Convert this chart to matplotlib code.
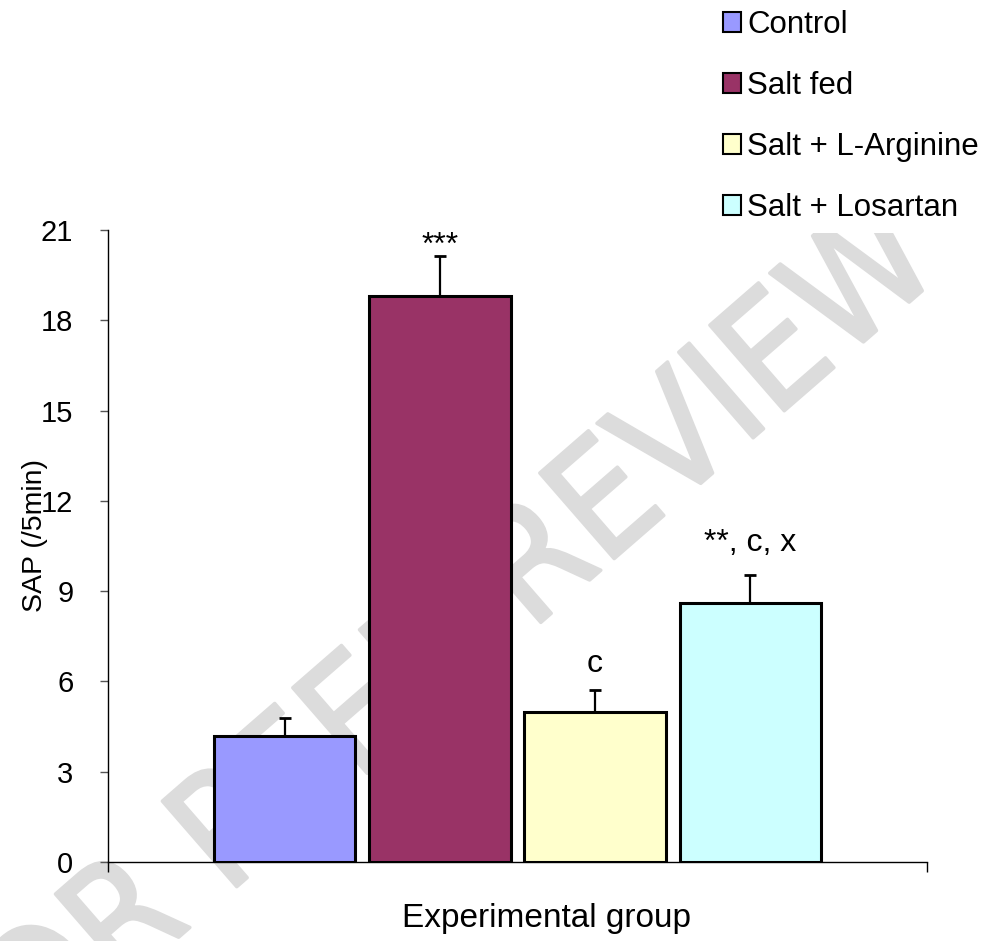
import matplotlib
matplotlib.use("Agg")
import matplotlib.pyplot as plt
from matplotlib.patches import Patch, Rectangle
import matplotlib.patheffects as pe
from matplotlib import font_manager

# ---- data ----
groups = ["Control", "Salt fed", "Salt + L-Arginine", "Salt + Losartan"]
sap_mean = [4.2, 18.8, 5.0, 8.6]
sap_err = [0.6, 1.35, 0.7, 0.95]
sig_labels = ["", "***", "c", "**, c, x"]
label_y = [0.0, 20.2, 6.3, 10.35]
colors = ["#9999FF", "#993366", "#FFFFCC", "#CCFFFF"]
y_ticks = [0, 3, 6, 9, 12, 15, 18, 21]

plt.rcParams['font.family'] = ['Liberation Sans', 'DejaVu Sans']

W, H = 997, 941
fig = plt.figure(figsize=(W / 100, H / 100), dpi=100)
ax = fig.add_axes([108 / W, 1 - 862 / H, (927 - 108) / W, (862 - 230) / H])
ax.set_facecolor('none')

x = list(range(len(groups)))
bars = ax.bar(x, sap_mean, width=0.91, color=colors, edgecolor='black',
              linewidth=2.2, zorder=3)
ax.errorbar(x, sap_mean, yerr=[[0] * len(sap_err), sap_err], fmt='none',
            ecolor='black', elinewidth=1.6, capsize=4.5, capthick=2, zorder=2)

for xi, lab, yy in zip(x, sig_labels, label_y):
    if lab:
        ax.text(xi, yy, lab, ha='center', va='baseline', fontsize=23, zorder=5)

ax.set_ylim(0, 21)
xl = (-1.14, 4.14)
ax.set_xlim(*xl)
ax.set_yticks(y_ticks)
ax.set_yticklabels([str(t) for t in y_ticks], fontsize=21)
ax.tick_params(axis='y', direction='out', length=6, width=1, color='#555555', pad=19)
ax.set_xticks(list(xl))
ax.set_xticklabels([])
ax.tick_params(axis='x', direction='out', length=7, width=1, color='black')
for s in ['top', 'right']:
    ax.spines[s].set_visible(False)
ax.spines['left'].set_linewidth(1)
ax.spines['bottom'].set_linewidth(1)

fig.text(546.5 / W, 1 - 919 / H, "Experimental group", ha='center', va='center', fontsize=24)
fig.text(35 / W, 1 - 535 / H, "SAP (/5min)", ha='center', va='center', rotation=90, fontsize=20.5)

# watermark (prefer a narrow sans face if one is installed)
cands = [f for f in font_manager.fontManager.ttflist
         if ('Narrow' in f.name or 'Condensed' in f.name or 'Condensed' in f.fname
             or 'Narrow' in f.fname)
         and 'Bold' not in f.fname and 'Italic' not in f.fname
         and 'Oblique' not in f.fname and 'Light' not in f.fname]
if cands:
    wm_font = font_manager.FontProperties(fname=cands[0].fname, size=112)
else:
    wm_font = font_manager.FontProperties(family='Liberation Sans', size=92)
wm = fig.text(432 / W, 1 - 660 / H, "FOR PEER REVIEW", ha='center', va='center', rotation=41,
              fontproperties=wm_font, color='#dcdcdc', zorder=-2,
              rotation_mode='anchor')
wm.set_path_effects([pe.Stroke(linewidth=2.5, foreground='#dcdcdc', capstyle='round',
                               joinstyle='round'), pe.Normal()])
fig.patches.append(Rectangle((700 / W, 1 - 233 / H), 297 / W, 233 / H,
                             transform=fig.transFigure, facecolor='white',
                             edgecolor='none', zorder=-1))

handles = [Patch(facecolor=c, edgecolor='black', linewidth=1.5) for c in colors]
leg = fig.legend(handles, groups, loc='upper left', bbox_to_anchor=(723 / W, 1 - 10 / H),
                 frameon=False, fontsize=22.5, handlelength=0.58, handleheight=0.58,
                 handletextpad=0.2, labelspacing=0.99, borderpad=0, borderaxespad=0)

fig.savefig("out.png", dpi=100)
